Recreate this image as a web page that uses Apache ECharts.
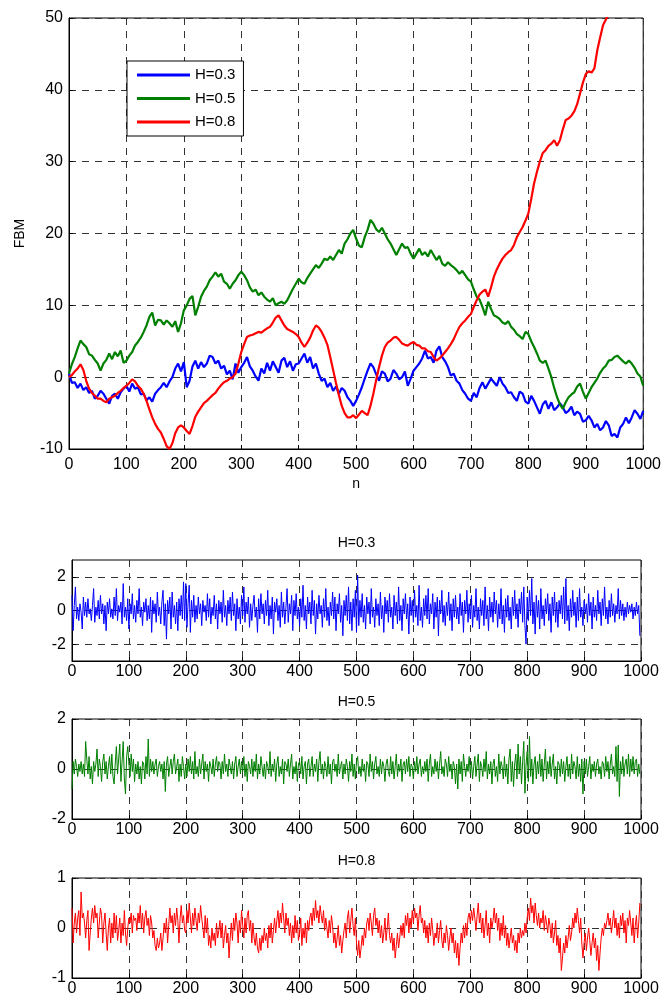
<!DOCTYPE html>
<html><head><meta charset="utf-8">
<script src="https://cdn.jsdelivr.net/npm/echarts@6/dist/echarts.min.js"></script>
<style>html,body{margin:0;padding:0;background:#fff}#c{width:664px;height:1000px}</style>
</head><body><div id="c"></div>
<script>
// ---- data ----
const seriesNames = ['H=0.3', 'H=0.5', 'H=0.8'];
const fbmStep = 5;   // n spacing of FBM samples
const fbmH03 = [
0.5,-0.8,-0.7,-1.5,-0.9,-1.8,-1.4,-2.2,-1.9,-3.0,-2.6,-1.9,-2.3,-3.0,-3.7,-2.6,-2.3,-3.0,-2.1,-1.6,
-1.2,-2.0,-0.9,-1.6,-1.4,-2.4,-2.3,-3.2,-2.8,-3.4,-2.3,-1.8,-1.4,-0.8,-1.4,-0.6,0,1.2,1.9,0.8,
2.1,-1.4,-0.5,1.5,2.3,1.2,2.1,1.4,1.9,3.0,2.8,1.9,2.3,1.2,1.6,0.4,0.9,-0.3,1.9,0.6,
1.4,2.0,2.8,1.5,0.9,0.1,-0.5,1.2,0.5,2.0,0.9,2.2,1.4,0.6,2.3,2.7,1.4,2.2,0.9,1.8,
1.9,2.6,3.3,2.0,2.8,1.2,1.9,0.5,-0.5,-0.2,-1.4,-0.8,-1.9,-1.3,-2.3,-1.5,-1.9,-2.8,-3.3,-4.0,
-3.3,-2.4,-1.4,-0.2,0.9,1.9,1.4,0.4,-0.5,0.8,0.5,-0.6,-0.2,1.0,0.5,-0.3,0,0.8,-1.2,-0.2,
0.9,1.4,1.9,2.6,3.7,2.6,2.8,2.0,3.7,4.3,2.8,2.2,1.4,0.2,0.5,-0.5,-0.9,-1.8,-2.3,-3.0,
-3.3,-2.2,-2.8,-1.5,-0.7,-1.6,-0.9,-0.2,-0.7,-1.2,0,-0.9,-1.4,-2.2,-2.1,-2.8,-3.3,-2.0,-2.3,-3.4,
-3.7,-2.6,-3.3,-4.2,-5.1,-3.8,-3.3,-4.4,-3.5,-4.6,-4.2,-3.6,-4.2,-5.0,-4.7,-4.1,-5.3,-4.8,-5.1,-6.2,
-6.0,-5.4,-6.0,-7.0,-6.5,-7.4,-7.0,-6.1,-6.7,-8.2,-7.9,-8.4,-7.0,-6.5,-5.6,-6.4,-5.6,-4.6,-5.1,-5.8,
-4.7];
const fbmH05 = [
0.5,1.8,2.8,4.0,5.1,4.6,4.2,3.2,3.0,2.4,1.9,0.9,1.9,2.4,3.3,2.5,3.5,2.9,3.7,2.0,
2.3,3.0,3.5,4.4,4.9,5.5,6.3,7.2,8.4,9.0,7.2,8.0,7.9,7.3,7.9,7.5,7.0,7.8,6.3,7.5,
9.3,10.0,10.9,11.3,8.6,9.8,11.2,12.0,12.6,13.5,14.0,14.6,14.0,14.4,13.3,13.0,12.3,13.0,13.5,14.2,
14.7,14.2,13.5,12.5,11.9,12.2,11.4,11.8,11.2,10.8,10.5,11.0,10.0,10.3,10.5,10.2,10.7,11.5,12.3,13.0,
13.7,13.2,13.0,13.8,14.4,15.0,15.6,15.2,15.8,16.5,16.3,16.8,16.3,17.0,17.7,17.2,18.6,19.2,20.0,20.5,
19.3,18.3,18.1,19.5,20.5,21.9,21.4,20.6,20.2,20.8,20.0,19.2,18.6,17.8,17.0,17.8,18.6,18.0,18.1,17.2,
16.5,17.2,17.9,17.0,17.4,16.8,17.7,17.0,16.3,16.9,15.8,15.5,16.0,15.6,15.3,14.9,14.4,14.8,14.2,13.6,
13.3,12.2,11.2,10.8,9.8,8.6,10.5,9.5,8.6,8.4,8.1,7.6,7.4,7.8,7.0,6.6,6.0,5.7,5.3,6.3,
6.0,5.0,4.2,3.3,2.3,2.0,2.3,1.2,0,-1.5,-2.8,-3.8,-4.4,-3.5,-2.8,-2.4,-2.1,-1.3,-0.9,-2.0,
-3.0,-2.2,-1.4,-0.8,-0.2,0.6,1.2,1.6,2.3,2.4,2.8,3.0,2.6,2.2,1.9,2.3,1.9,1.3,0.5,0.1,
-1.2];
const fbmH08 = [
0,0.3,0.8,1.2,1.8,1.0,-0.5,-1.6,-2.2,-2.6,-3.0,-3.0,-3.3,-3.5,-3.0,-2.8,-2.6,-2.2,-1.9,-1.5,
-1.2,-0.8,-0.3,-0.6,-1.2,-1.6,-2.3,-3.3,-4.5,-5.6,-6.5,-7.2,-7.7,-8.6,-9.6,-10.0,-9.2,-7.8,-7.0,-6.7,
-7.0,-7.5,-7.9,-6.8,-5.5,-4.8,-4.2,-3.6,-3.3,-2.9,-2.5,-2.2,-1.6,-1.1,-0.7,-0.5,-0.2,0,0.5,1.9,
3.5,4.6,5.6,5.8,5.9,6.1,6.3,6.2,6.5,6.8,7.0,7.6,8.3,8.6,7.9,7.2,6.7,6.5,6.3,6.0,
5.6,4.8,4.2,4.8,5.5,6.5,7.2,6.9,6.3,5.5,4.5,2.8,1.0,-0.8,-2.5,-4.0,-5.0,-5.6,-5.6,-5.3,
-5.7,-5.2,-4.7,-5.0,-5.3,-4.0,-2.3,-0.4,1.4,3.0,4.2,4.8,5.1,5.5,5.6,5.2,4.7,4.5,4.4,4.7,
4.9,4.5,4.4,4.0,4.0,3.6,3.5,2.8,2.3,2.6,3.0,3.5,4.0,4.6,5.3,6.2,7.0,7.5,7.9,8.4,
8.8,9.8,10.7,11.5,11.9,12.2,11.2,12.5,14.0,15.0,15.8,16.5,17.0,17.4,17.7,18.4,19.5,20.2,20.9,21.8,
22.8,24.8,27,28.6,30,31.2,31.6,32.2,32.5,33.0,32.2,33.0,34.5,35.8,36,36.4,37,38.0,39.5,41.0,
42.2,42.6,42.4,43.0,45.5,47.3,49,49.8,50.5,51.2,52,null,null,null,null,null,null,null,null,null,
null];

const noiseStep = 2;  // n spacing of increment samples
const noiseH03 = [
.9,-1.2,.3,1.4,-.5,.2,-.6,.4,-.1,-1.1,
.8,-.3,.5,-.4,.7,-.2,.1,-.6,.3,1.3,
-.7,.2,-.3,.6,-.5,.9,-.2,.4,-.8,.3,
-1.2,.5,-.2,.7,-.4,.1,-.5,.8,-.3,1.3,
-.6,.3,-.1,.5,-.8,1.6,-.4,.2,-.6,.7,
-1.1,.4,-.2,1.0,-.5,.3,-.7,.6,-.2,1.3,
-.4,.2,-.9,.5,-.1,.7,-.6,.3,-.5,.8,
-1.3,.6,-.2,.4,-.7,1.1,-.3,.2,-.8,.5,
1.2,-.9,.4,-1.7,.6,-.2,.8,-1.1,1.1,-.4,
.3,-.8,.5,-1.2,.7,-.3,.9,-.5,1.7,-.6,
1.6,-1.0,.4,1.5,-1.3,.6,-.4,.9,-.7,.3,
-.5,.8,-.2,.4,-.9,.6,-.1,.3,-.6,1.0,
-.4,.7,-.8,.2,-.3,.9,-.5,.4,-1.1,.6,
-.2,.5,-.7,1.2,-.4,.3,-.9,.6,-.2,.8,
-.6,1.1,-.3,.4,-1.2,.7,-.5,.2,-.8,.9,
-.3,1.4,-.7,.5,-.2,.8,-1.0,.4,-.6,.3,
.9,-.4,.2,-1.3,.7,-.5,1.0,-.2,.4,-.8,
.6,-.3,1.2,-.9,.3,-.5,.8,-1.4,.5,-.1,
.7,-.6,.3,-1.0,1.1,-.4,.5,-.8,.2,1.3,
-.7,.4,-.2,.9,-1.2,.6,-.3,1.0,-.5,.2,
-.9,.7,-.4,1.5,-.6,.3,-1.1,.8,-.2,.5,
-.8,1.2,-.3,.6,-1.4,.4,-.5,.9,-.2,.3,
-1.0,.7,-.4,1.3,-.6,.2,-.9,.5,-.3,1.1,
-.5,.8,-1.2,.4,-.2,1.0,-.7,.3,-1.5,.6,
-.3,.9,-.6,1.4,-.8,.5,-1.2,.7,-.4,1.2,
-1.3,2.1,-.9,.6,-.4,1.0,-.7,.3,-1.1,.8,
-.2,.5,-.8,1.3,-.4,.2,-1.0,.7,-.3,.4,
-.9,1.1,-.5,.3,-1.3,.8,-.2,.6,-.7,1.0,
-.4,.2,-1.1,.9,-.3,.5,-.8,1.4,-.6,.3,
-1.2,.7,-.2,1.0,-.5,.4,-1.4,.8,-.3,.6,
-.7,1.2,-.4,.3,-.9,1.5,-.6,.2,-1.0,.7,
-.3,.9,-.5,1.3,-.8,.4,-.2,1.0,-1.1,.5,
-.4,.8,-1.5,.6,-.2,1.2,-.7,.3,-.9,.5,
-.3,1.1,-.6,.4,-1.2,.7,-.4,.9,-.5,.2,
-.8,1.0,-.3,.5,-1.3,.6,-.2,1.2,-.7,.4,
-.5,.9,-1.0,.3,-.4,1.3,-.6,.2,-1.1,.7,
-.3,.6,-.9,1.4,-.5,.3,-1.2,.8,-.4,.5,
-.7,1.1,-.2,.6,-1.0,.4,-.5,1.3,-.8,.3,
-1.3,.7,-.4,.9,-.6,.2,-1.1,.8,-.3,1.2,
-.5,.4,-1.0,.7,-.2,1.1,-.7,1.4,-.9,-2.0,
.8,-.6,1.2,-.3,1.9,-.8,.5,-1.4,.9,-.4,
.6,-1.1,1.3,-.5,.3,-.9,.7,-.2,1.0,-.6,
.4,-1.3,.8,-.3,1.1,-.7,.5,-1.0,.6,-.2,
.9,-.5,1.4,-.8,1.9,-.6,.3,-1.2,.7,-.4,
1.2,-.3,.5,-1.0,.8,-.6,1.3,-.4,.2,-.9,
.6,-.2,.4,-.7,1.0,-.3,.5,-1.1,.8,-.4,
.3,-.6,1.2,-.2,.5,-.9,.7,-.3,1.4,-.5,
.2,-.8,.6,-.4,1.0,-.3,.4,-.7,.3,-.2,
1.3,-.5,.6,-.3,.4,-.6,.2,-.4,.5,-.2,
.3,-.1,.4,-.5,.2,-.3,.5,-.2,.3,-1.5];
const noiseH05 = [
-.8,.3,-.2,.4,.1,-.3,.2,-.1,.3,-.2,
.2,-.3,1.1,.4,-.2,.5,-.4,.1,-.6,.3,
-.1,.2,.8,-.3,.4,.1,-.5,.3,.6,-.2,
.3,-.4,.1,.5,-.2,.6,-.3,-.6,.2,.9,
-.2,.4,1.0,-.5,.3,1.1,-.4,-1.0,.5,.9,
.2,-.3,.6,-.1,.4,-.5,.2,-.2,.3,-.4,
.1,-.6,.3,.2,-.4,.5,-.2,1.2,-.3,.4,
-.1,.3,-.2,.2,.4,-.3,.1,.3,-.1,.2,
-.4,.3,-.9,.2,.5,-.3,.1,.4,-.2,.3,
.6,-.2,.1,.4,-.5,.2,-.3,.5,.1,-.4,
.2,-.3,.4,-.1,.5,-.2,.3,-.4,.7,-.2,
.1,-.3,.4,-.2,.2,.6,-.4,.3,-.1,.2,
-.5,.3,.1,-.2,.4,-.3,.2,.5,-.1,.3,
.2,-.4,.3,-.2,.6,-.1,.2,-.3,.4,.1,
-.2,.3,-.4,.2,.5,-.3,.1,.4,-.2,.3,
-.1,.5,-.3,.2,-.5,.3,.1,-.2,.4,-.3,
.3,-.1,.6,-.4,.2,-.2,.5,.1,-.3,.2,
-.4,.3,.1,-.2,.7,-.3,.2,-.1,.4,-.5,
.2,.5,-.3,.1,-.2,.4,-.6,.3,.2,-.1,
.4,-.3,.2,.6,-.4,.1,-.2,.3,-.5,.2,
.3,-.2,.5,-.4,.1,.3,-.6,.2,.4,-.3,
.1,.5,-.3,.2,-.1,.4,-.5,.3,.7,-.2,
.2,-.4,.3,.1,-.3,.5,-.2,.2,-.6,.3,
.4,-.1,.2,-.3,.6,-.2,.1,.3,-.4,.2,
-.2,.4,.1,-.5,.3,-.1,.6,-.3,.2,-.4,
.3,.5,-.2,.1,-.3,.4,-.1,.2,-.5,.3,
.2,-.3,.6,-.1,.3,-.4,.2,.5,-.2,.1,
-.3,.4,-.2,.3,.1,-.5,.2,.4,-.1,-.3,
.5,-.2,.3,-.4,.1,.6,-.3,.2,-.1,.4,
-.5,.2,.3,-.2,.4,-.1,.5,-.3,.2,.1,
-.4,.3,-.1,.5,-.2,.2,.4,-.3,.1,-.2,
.3,-.1,.4,-.5,.2,.6,-.3,.1,-.2,.4,
-.1,.3,-.4,.2,.7,-.2,.1,-.3,.4,.2,
-.3,.5,-.1,.2,-.4,.3,.1,-.6,.2,-.8,
.4,-.2,.3,-.5,.6,.1,-.3,.2,-.1,.5,
-.2,.3,-.4,.1,.5,-.3,.2,.6,-.5,.3,
.1,-.3,.4,-.1,.7,-.4,.2,-.2,.3,-.6,
.2,.4,-.3,.1,-.5,.6,-.2,.3,.1,-.4,
.5,-.3,.2,-.6,.4,.8,-.5,.3,-.7,.2,
.6,-.4,1.0,-.2,.5,-.6,.3,1.1,-.97,.2,
.7,-.5,1.3,-.3,.4,-.6,.2,.5,-.4,.3,
-.2,.6,-.3,.4,-.5,.2,.8,-.4,.3,-.2,
.5,-.3,.2,.6,-.4,.1,-.6,.3,.2,-.3,
.4,-.2,.3,-.5,.1,.5,-.3,.2,-.4,.6,
-.2,.3,.1,-.4,.5,-.3,.2,-.5,.4,-1.0,
.3,-.2,.4,-.3,.1,.5,-.4,.2,-.1,.3,
-.3,.2,.4,-.2,.1,-.4,.3,.2,-.3,.5,
-.1,.3,-.4,.2,.6,-.2,.1,-.3,.9,-.5,
.96,-1.1,.3,-.2,.5,-.3,.2,.4,-.2,.6,
-.3,.4,-.1,.5,-.2,.3,.4,-.3,.2,-.2];
const noiseH08 = [
.4,-.3,.1,.3,-.1,.2,.35,-.15,.72,.2,
.3,.1,-.2,.15,.35,-.45,-.1,.2,.4,.1,
.45,.2,.3,-.2,.1,.4,.25,-.3,.1,.3,
-.1,-.45,0,.2,-.3,.1,-.2,.3,-.1,.25,
-.25,-.05,.2,-.3,.1,-.15,.35,-.1,-.35,0,
.2,.1,.3,-.1,.25,.15,.2,-.05,.3,.1,
.45,0,.3,-.1,.2,.35,.05,.2,-.15,.25,
.1,-.2,-.05,-.35,-.45,-.2,-.4,-.3,-.1,-.45,
-.2,.1,-.1,.2,-.3,.05,.4,.1,.25,-.1,
.3,.05,.4,.15,-.3,.2,.45,.1,.25,-.05,
-.1,.35,.1,.5,.2,-.1,.3,.05,.4,.15,
-.05,.3,.1,.45,.2,0,-.2,.25,-.1,.2,
-.35,-.15,-.4,0,-.25,-.1,-.35,.1,-.2,-.05,
.15,-.2,.1,-.4,-.15,.05,-.3,-.1,-.6,-.2,
.1,-.25,.2,-.05,.3,.1,-.3,.15,-.1,.35,
.05,-.2,.2,-.1,.25,.35,-.05,.15,-.3,.1,
-.2,-.35,-.1,-.4,-.5,-.2,-.45,-.15,-.3,0,
-.25,-.1,-.4,.05,-.2,.1,-.3,-.05,.2,-.1,
.15,.35,0,.3,.1,.5,.2,-.1,.3,.05,
.2,-.15,.1,-.3,.05,-.2,.25,-.1,.15,-.25,
-.1,.2,-.35,0,-.2,.1,-.3,.15,-.05,.2,
.3,.05,.4,.15,.55,.2,.35,.1,.45,.25,
.1,.35,-.05,.2,0,-.2,.15,-.1,.25,.05,
-.3,-.1,-.4,-.2,.05,-.35,-.15,-.5,-.25,-.05,
.1,-.2,.2,.35,-.1,.15,.4,.05,-.15,.2,
-.3,-.55,-.25,-.6,-.4,-.15,-.35,0,-.2,.1,
.2,-.05,.3,.1,-.15,.25,.4,.05,.2,-.1,
.15,-.2,.05,-.3,-.1,.2,-.25,0,.3,-.15,
-.3,-.1,-.45,-.2,-.6,-.35,-.1,-.4,-.2,.05,
-.15,.1,-.2,.25,.05,.3,-.1,.2,0,.35,
.1,.4,.2,.3,-.05,.25,.45,.1,.2,-.1,
.15,-.2,.05,-.3,.1,-.15,.2,-.05,-.35,-.1,
-.2,.1,-.3,-.05,.15,-.25,-.4,-.1,-.3,.05,
-.15,-.45,-.2,0,-.3,-.1,-.5,-.25,-.6,-.3,
-.75,-.4,-.1,-.3,.05,-.2,.1,-.15,.2,.3,
.1,.35,.15,.4,.2,-.05,.25,.5,.1,.3,
-.1,.2,-.2,.05,.35,-.15,.1,-.3,.2,0,
.15,.4,.1,.3,-.05,.2,-.25,.1,-.15,.25,
-.2,.05,-.35,-.1,-.4,-.2,0,-.3,-.15,-.45,
-.25,-.5,-.1,-.3,0,-.2,-.05,-.15,.1,-.1,
.2,.4,.15,.6,.3,.45,.1,.5,.25,.05,
.3,0,.2,.1,.35,-.05,.25,.1,-.1,.2,
.05,-.2,.1,-.3,-.1,.15,-.35,-.15,-.5,-.2,
-.85,-.6,-.3,-.5,-.15,-.4,-.2,.05,-.25,-.1,
.2,0,.3,.1,.4,.15,-.1,.2,-.3,-.6,
-.3,-.1,-.45,-.2,0,-.25,-.55,-.3,-.1,-.4,
-.2,-.65,-.35,-.85,-.5,-.2,0,-.15,.1,0,
.15,.3,.05,.2,-.1,.1,.35,0,.2,-.15,
.1,-.2,.25,.05,.3,-.1,.15,-.3,.2,.05,
.35,.1,-.15,.2,-.3,.05,.25,-.2,.1,.5];

const xTicks = [0,100,200,300,400,500,600,700,800,900,1000];
const yTicksTop = [-10,0,10,20,30,40,50];
const yTicksH03 = [-2,0,2];
const yTicksH05 = [-2,0,2];
const yTicksH08 = [-1,0,1];
const panelTitles = ['H=0.3','H=0.5','H=0.8'];
const colors = ['#0000ff', '#008000', '#ff0000'];

// ---- build ----
const toPairs = (arr, step) => arr.map((v, i) => [i * step, v]);
const FONT = 'Liberation Sans, Arial, Helvetica, sans-serif';
const dash = [7, 6];
const plain = v => String(v);

function xAx(gi, margin) {
  return {
    type: 'value', gridIndex: gi, min: 0, max: 1000,
    axisLine: { show: true, onZero: false, lineStyle: { color: '#000', width: 1 } },
    axisTick: { show: true, inside: true, length: 4, lineStyle: { color: '#000' }, customValues: xTicks },
    axisLabel: { color: '#000', fontSize: 16, fontFamily: FONT, margin: margin, customValues: xTicks, formatter: plain },
    splitLine: { show: true, lineStyle: { color: '#333', type: dash, width: 1 } }
  };
}
function yAx(gi, min, max, ticks) {
  return {
    type: 'value', gridIndex: gi, min: min, max: max,
    axisLine: { show: true, onZero: false, lineStyle: { color: '#000', width: 1 } },
    axisTick: { show: true, inside: true, length: 4, lineStyle: { color: '#000' }, customValues: ticks },
    axisLabel: { color: '#000', fontSize: 16, fontFamily: FONT, margin: 6, customValues: ticks, formatter: plain },
    splitLine: { show: true, lineStyle: { color: '#333', type: dash, width: 1 } }
  };
}

const gridBase = { show: true, borderColor: '#000', borderWidth: 1, backgroundColor: '#fff', containLabel: false };
const option = {
  animation: false,
  backgroundColor: '#fff',
  textStyle: { fontFamily: FONT },
  title: panelTitles.map((t, i) => ({
    text: t, left: 356.5, top: [536, 695, 854][i], textAlign: 'center', padding: 0,
    textStyle: { fontSize: 14, fontWeight: 'normal', color: '#000', fontFamily: FONT }
  })),
  legend: {
    data: seriesNames, orient: 'vertical', left: 127, top: 61,
    icon: 'rect', itemWidth: 53, itemHeight: 3, itemGap: 7.5,
    padding: [6, 8, 6, 10],
    backgroundColor: '#fff', borderColor: '#000', borderWidth: 1, borderRadius: 0,
    textStyle: { fontSize: 15, color: '#000', fontFamily: FONT, lineHeight: 16 },
    selectedMode: false
  },
  grid: [
    Object.assign({ left: 69, top: 18, width: 575, height: 431 }, gridBase),
    Object.assign({ left: 72, top: 560, width: 569, height: 101 }, gridBase),
    Object.assign({ left: 72, top: 719, width: 569, height: 100 }, gridBase),
    Object.assign({ left: 72, top: 878, width: 569, height: 100 }, gridBase)
  ],
  xAxis: [
    Object.assign(xAx(0, 8), { name: 'n', nameLocation: 'middle', nameGap: 28,
      nameTextStyle: { fontSize: 14, color: '#000', fontFamily: FONT } }),
    xAx(1, 3), xAx(2, 3), xAx(3, 3)
  ],
  yAxis: [
    Object.assign(yAx(0, -10, 50, yTicksTop), { name: 'FBM', nameLocation: 'middle', nameGap: 42,
      nameTextStyle: { fontSize: 14, color: '#000', fontFamily: FONT } }),
    yAx(1, -3, 3, yTicksH03),
    yAx(2, -2, 2, yTicksH05),
    yAx(3, -1, 1, yTicksH08)
  ],
  series: [
    ...[fbmH03, fbmH05, fbmH08].map((d, i) => ({
      name: seriesNames[i], type: 'line', xAxisIndex: 0, yAxisIndex: 0,
      data: toPairs(d, fbmStep), showSymbol: false, symbol: 'none', clip: true,
      color: colors[i], lineStyle: { color: colors[i], width: 2.2 }, silent: true, z: 3
    })),
    ...[noiseH03, noiseH05, noiseH08].map((d, i) => ({
      name: 'inc ' + seriesNames[i], type: 'line', xAxisIndex: i + 1, yAxisIndex: i + 1,
      data: toPairs(d, noiseStep), showSymbol: false, symbol: 'none', clip: true,
      color: colors[i], lineStyle: { color: colors[i], width: 1 }, silent: true, z: 3
    }))
  ]
};
const chart = echarts.init(document.getElementById('c'), null, { renderer: 'canvas' });
chart.setOption(option);
</script>
</body></html>
